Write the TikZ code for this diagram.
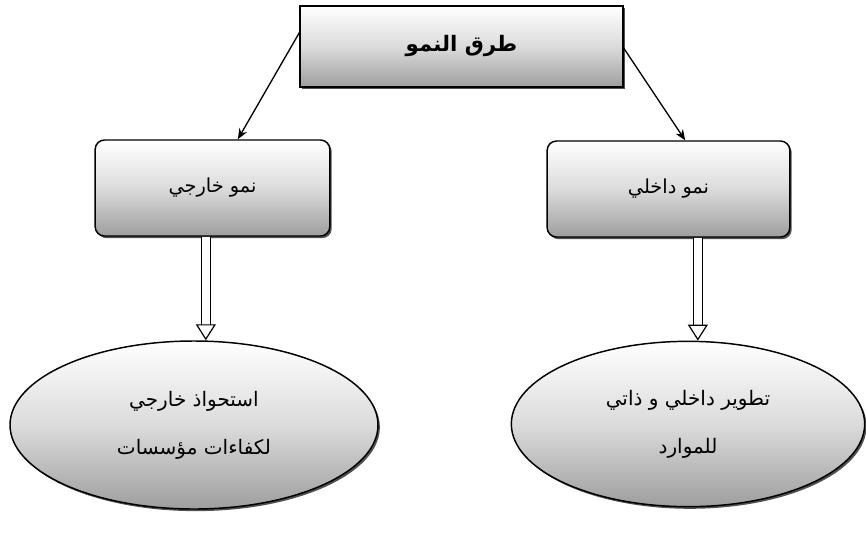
\documentclass[tikz,border=0pt]{standalone}
\usepackage{fontspec}
\newfontfamily\arabicfont[Script=Arabic]{DejaVu Sans}
\TeXXeTstate=1
\usetikzlibrary{arrows.meta,shadows,shapes.geometric}
\begin{document}
\begin{tikzpicture}[x=0.75pt,y=-0.75pt,
  shade box/.style={draw=black, line width=1.1pt,
    top color=white, bottom color=black!38, middle color=black!14,
    drop shadow={shadow xshift=1.4pt, shadow yshift=-1.6pt, opacity=0.85, fill=black!80},
    font=\arabicfont, text=black},
  headbox/.style={shade box, rectangle, minimum width=242pt, minimum height=61pt, font=\arabicfont\bfseries\fontsize{16}{19}\selectfont},
  subbox/.style={shade box, rectangle, rounded corners=7pt, minimum height=72pt, font=\arabicfont\fontsize{14.5}{17}\selectfont},
  result/.style={shade box, ellipse, inner sep=0pt, align=center, font=\arabicfont\fontsize{15}{18}\selectfont},
  link/.style={line width=1pt, -{Stealth[length=8pt,width=6.5pt]}},
  flow/.style={double, double distance=6pt, line width=0.9pt, -{Triangle[open,length=12pt,width=15pt]}}
]
\useasboundingbox (0,0) rectangle (866,535);

% head of the tree
\node[headbox] (top) at (461.5,46.5) {\beginR طرق النمو\endR};

% the two ways of growth
\node[subbox, minimum width=176pt] (lbox) at (212.5,188) {\beginR نمو خارجي\endR};
\node[subbox, minimum width=182pt] (rbox) at (668.5,189) {\beginR نمو داخلي\endR};

% what each way leads to
\node[result, minimum width=276pt, minimum height=126pt] (lell) at (194,425)
  {{\beginR استحواذ خارجي\endR}\\[18pt]{\beginR لكفاءات مؤسسات\endR}};
\node[result, minimum width=265pt, minimum height=124pt] (rell) at (688,424)
  {{\beginR تطوير داخلي و ذاتي\endR}\\[18pt]{\beginR للموارد\endR}};

% branches from the head
\draw[link] ([yshift=10.5pt]top.west) -- ([xshift=19pt]lbox.north);
\draw[link] ([yshift=-1pt]top.east) -- ([xshift=12.5pt]rbox.north);

% double arrows down to the ellipses
\draw[flow] ([xshift=-5pt]lbox.south) -- ([xshift=-5pt]lbox.south |- lell.north);
\draw[flow] ([xshift=22pt]rbox.south) -- ([xshift=22pt]rbox.south |- rell.north);
\end{tikzpicture}
\end{document}
